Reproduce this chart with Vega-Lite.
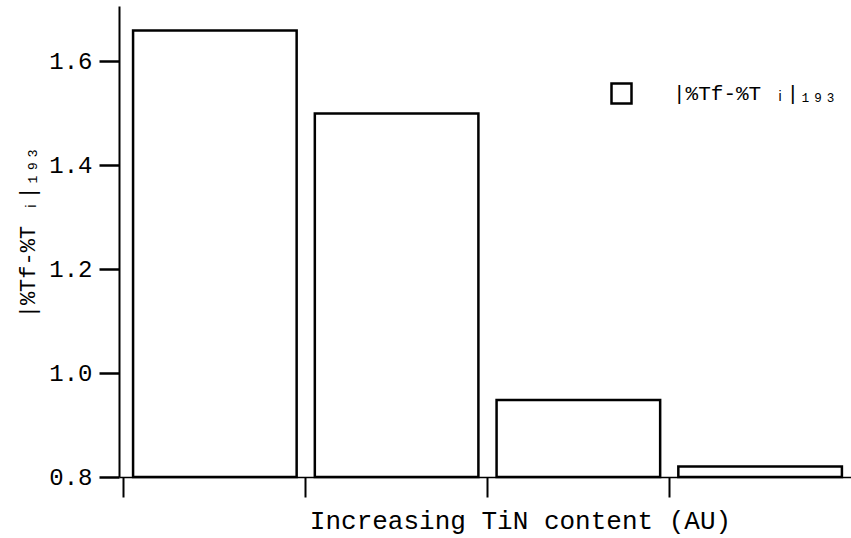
{
  "$schema": "https://vega.github.io/schema/vega-lite/v6.json",
  "autosize": {"type": "none"},
  "padding": {"left": 119, "top": 6, "right": 0, "bottom": 61},
  "width": 732,
  "height": 471,
  "background": "white",
  "config": {
    "view": {"stroke": null},
    "font": "Liberation Mono",
    "axis": {"grid": false, "domainColor": "black", "tickColor": "black", "labelColor": "black", "titleColor": "black", "titleFontWeight": "normal"}
  },
  "data": {
    "values": [
      {"sample": "1", "value": 1.659, "series": "|%Tf-%T ᵢ|₁₉₃"},
      {"sample": "2", "value": 1.499, "series": "|%Tf-%T ᵢ|₁₉₃"},
      {"sample": "3", "value": 0.948, "series": "|%Tf-%T ᵢ|₁₉₃"},
      {"sample": "4", "value": 0.820, "series": "|%Tf-%T ᵢ|₁₉₃"}
    ]
  },
  "mark": {"type": "bar", "width": {"band": 0.9}, "stroke": "black", "strokeWidth": 2.5, "strokeJoin": "miter"},
  "encoding": {
    "x": {
      "field": "sample",
      "type": "nominal",
      "sort": null,
      "scale": {"paddingInner": 0, "paddingOuter": 0.0137, "align": 1},
      "axis": {
        "title": "Increasing TiN content (AU)",
        "labels": false,
        "bandPosition": 0,
        "domainWidth": 1.5,
        "tickSize": 20,
        "tickWidth": 2,
        "titleFont": "Liberation Mono",
        "titleFontSize": 26,
        "titleX": 401,
        "titleY": 51,
        "titleAlign": "center",
        "titleBaseline": "alphabetic"
      }
    },
    "y": {
      "field": "value",
      "type": "quantitative",
      "scale": {"domain": [0.8, 1.706], "nice": false, "zero": false},
      "axis": {
        "title": "|%Tf-%T ᵢ|₁₉₃",
        "values": [0.8, 1.0, 1.2, 1.4, 1.6],
        "format": ".1f",
        "domainWidth": 2,
        "tickSize": 20,
        "tickWidth": 2.5,
        "labelFont": "Liberation Mono",
        "labelFontSize": 24,
        "labelPadding": 7,
        "labelFlush": false,
        "titleFont": "Liberation Mono",
        "titleFontSize": 22,
        "titleAngle": 270,
        "titleX": -85,
        "titleY": 226,
        "titleAlign": "center",
        "titleBaseline": "alphabetic"
      }
    },
    "y2": {"datum": 0.8},
    "fill": {
      "field": "series",
      "type": "nominal",
      "scale": {"range": ["white"]},
      "legend": {
        "title": null,
        "orient": "none",
        "legendX": 491,
        "legendY": 76,
        "padding": 0,
        "symbolType": "square",
        "symbolSize": 400,
        "symbolStrokeColor": "black",
        "symbolStrokeWidth": 2.5,
        "symbolFillColor": "white",
        "labelFont": "Liberation Mono",
        "labelFontSize": 21,
        "labelOffset": 40,
        "labelLimit": 400,
        "labelColor": "black"
      }
    }
  }
}
